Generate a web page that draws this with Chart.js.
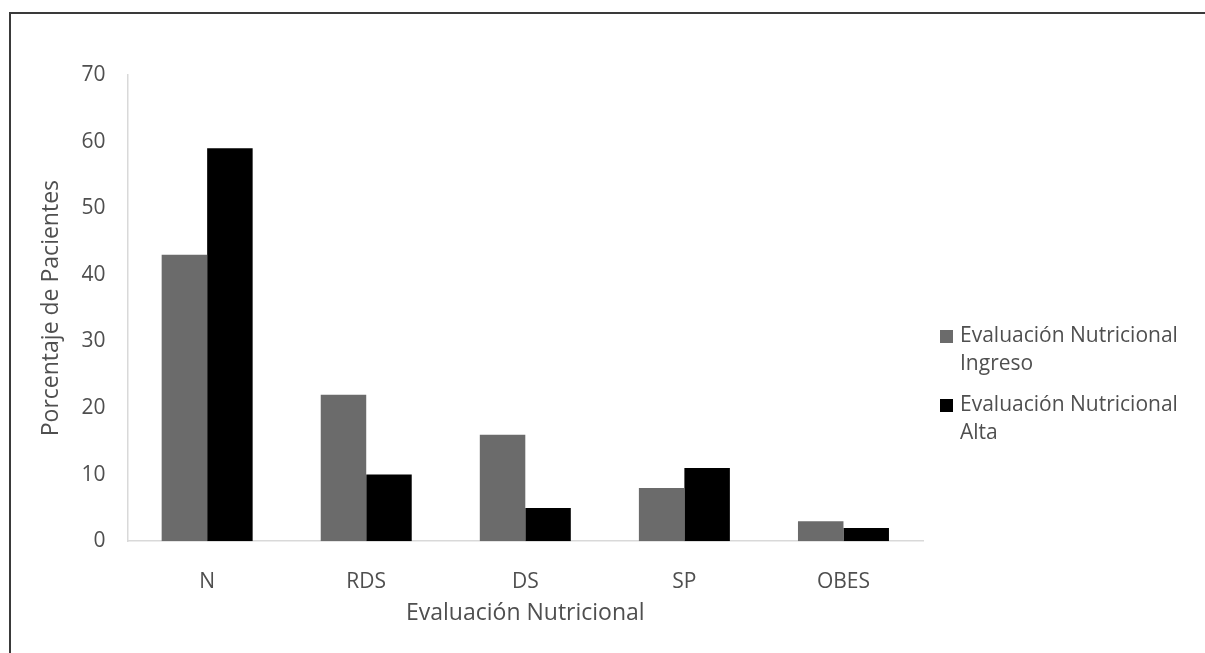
<!DOCTYPE html>
<html>
<head>
<meta charset="utf-8">
<script src="https://cdn.jsdelivr.net/npm/chart.js@4"></script>
<style>
  html, body { margin: 0; padding: 0; background: #fff; }
  #wrap { position: relative; width: 1205px; height: 653px; overflow: hidden; }
  #frame { position: absolute; left: 9px; top: 12px; width: 1300px; height: 800px;
           border-top: 2px solid #3a3a3a; border-left: 2px solid #3a3a3a; box-sizing: border-box; }
  canvas { position: absolute; left: 0; top: 0; }
</style>
</head>
<body>
<div id="wrap">
  <div id="frame"></div>
  <canvas id="c" width="1205" height="653"></canvas>
</div>
<script>
const categories = ["N", "RDS", "DS", "SP", "OBES"];
const ingreso = [43, 22, 16, 8, 3];
const alta = [59, 10, 5, 11, 2];
const seriesNames = [["Evaluación Nutricional", "Ingreso"], ["Evaluación Nutricional", "Alta"]];
const yTicks = [0, 10, 20, 30, 40, 50, 60, 70];

const textColor = "#4f4f4f";
const fontFamily = "'Open Sans', sans-serif";

const legendPlugin = {
  id: "sideLegend",
  afterDraw(chart) {
    const ctx = chart.ctx;
    const area = chart.chartArea;
    const x0 = area.right + 17;
    let y = area.top + 261;
    const lh = 28;
    ctx.save();
    ctx.font = "21px " + fontFamily;
    ctx.textBaseline = "middle";
    chart.data.datasets.forEach(ds => {
      const lines = Array.isArray(ds.label) ? ds.label : [ds.label];
      ctx.fillStyle = ds.backgroundColor;
      ctx.fillRect(x0, y - 6, 13, 13);
      ctx.fillStyle = textColor;
      lines.forEach((ln, i) => ctx.fillText(ln, x0 + 20, y + i * lh));
      y += lines.length * lh + 13;
    });
    ctx.restore();
  }
};

new Chart(document.getElementById("c"), {
  type: "bar",
  data: {
    labels: categories,
    datasets: [
      { label: seriesNames[0], data: ingreso, backgroundColor: "#6b6b6b" },
      { label: seriesNames[1], data: alta, backgroundColor: "#000000" }
    ]
  },
  options: {
    responsive: false,
    animation: false,
    devicePixelRatio: 1,
    layout: { padding: { left: 38, right: 282, top: 75, bottom: 26 } },
    datasets: { bar: { categoryPercentage: 0.572, barPercentage: 1.0 } },
    plugins: { legend: { display: false }, tooltip: { enabled: false } },
    scales: {
      x: {
        grid: { display: false, drawTicks: false },
        border: { display: true, color: "#d9d9d9", width: 1.5 },
        ticks: { color: textColor, font: { family: fontFamily, size: 21 }, padding: 28 },
        title: { display: true, text: "Evaluación Nutricional", color: textColor,
                 font: { family: fontFamily, size: 23 }, padding: { top: -23, bottom: 0 } }
      },
      y: {
        min: 0, max: 70,
        afterBuildTicks(scale) { scale.ticks = yTicks.map(v => ({ value: v })); },
        grid: { display: false, drawTicks: false },
        border: { display: true, color: "#d9d9d9", width: 1.5 },
        ticks: { color: textColor, font: { family: fontFamily, size: 21 }, padding: 22 },
        title: { display: true, text: "Porcentaje de Pacientes", color: textColor,
                 font: { family: fontFamily, size: 23 }, padding: { top: 0, bottom: -6 } }
      }
    }
  },
  plugins: [legendPlugin]
});
</script>
</body>
</html>
